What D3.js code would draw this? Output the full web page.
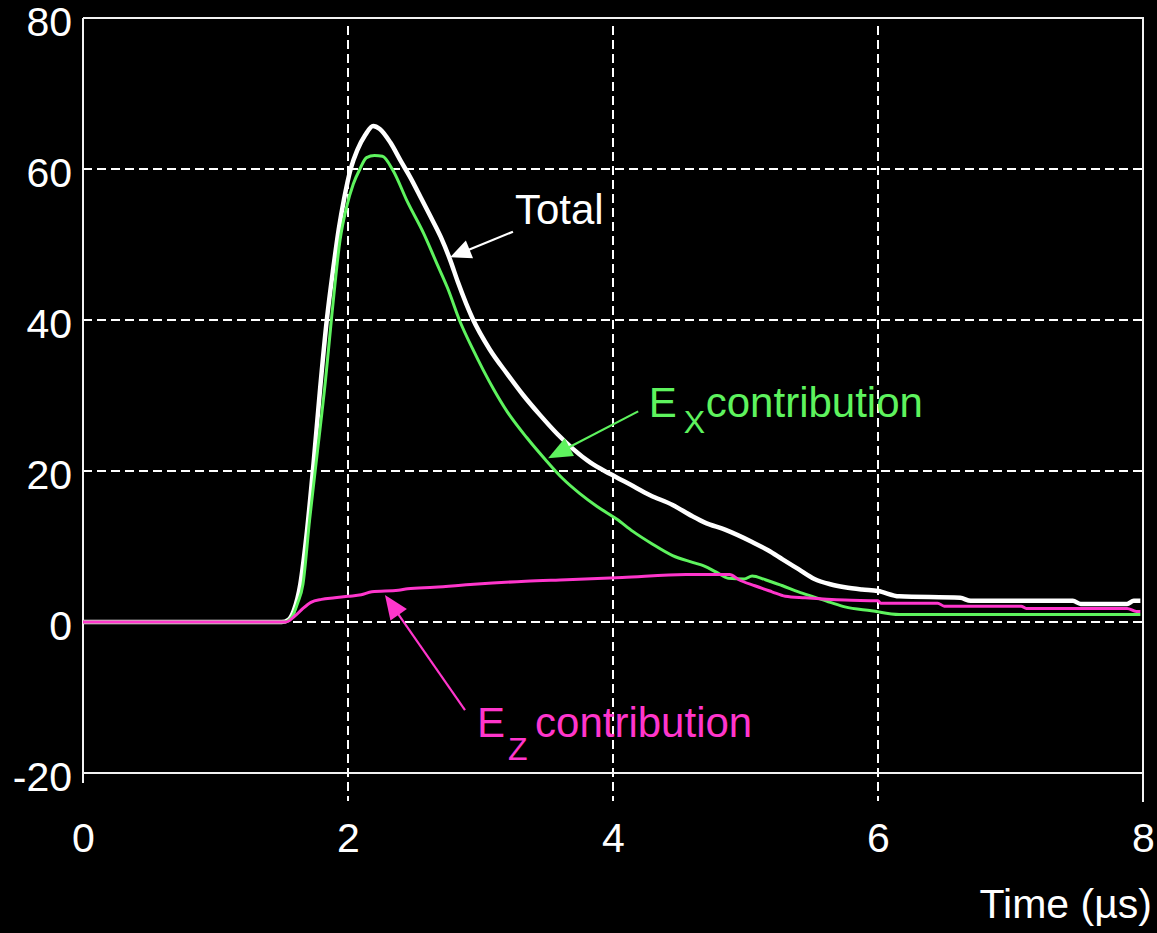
<!DOCTYPE html>
<html>
<head>
<meta charset="utf-8">
<script src="https://cdn.jsdelivr.net/npm/d3@7"></script>
<style>
  html, body { margin: 0; padding: 0; background: #000; }
  svg { display: block; }
</style>
</head>
<body>
<script>
// Axis ticks
const timeTicks = [0, 2, 4, 6, 8];
const fieldTicks = [-20, 0, 20, 40, 60, 80];
const gridTimes = [2, 4, 6];
const gridFields = [0, 20, 40, 60];

// Total field (V/m) against time (µs)
const totalTime = [0, 1.50, 1.55, 1.59, 1.64, 1.69, 1.74, 1.79, 1.84, 1.89, 1.93, 1.97, 2.02, 2.07, 2.13,
  2.19, 2.24, 2.32, 2.40, 2.47, 2.55, 2.62, 2.70, 2.77, 2.83, 2.94, 3.07, 3.20, 3.32, 3.45,
  3.58, 3.70, 3.83, 3.98, 4.13, 4.28, 4.45, 4.60, 4.69, 4.85, 5.05, 5.17, 5.28,
  5.40, 5.52, 5.64, 5.75, 5.88, 6.00, 6.16, 6.62, 6.70, 7.47, 7.53, 7.88, 7.93, 7.98];
const totalField = [0, 0, 0.3, 1.5, 5, 12, 21, 31, 40, 47, 52, 56, 60, 62.5, 64.5,
  65.7, 65.3, 63.5, 61, 58.9, 56.2, 53.8, 51, 48.0, 45.0, 40.2, 36.1, 32.9, 30.1, 27.4,
  24.9, 22.9, 21.1, 19.6, 18.2, 16.8, 15.5, 14, 13.2, 12.2, 10.6, 9.5, 8.3,
  7.0, 5.7, 5.0, 4.6, 4.3, 4.1, 3.4, 3.2, 2.8, 2.8, 2.4, 2.4, 2.8, 2.8];

// Ex contribution
const exTime = [0, 1.52, 1.57, 1.62, 1.66, 1.71, 1.77, 1.83, 1.88, 1.94, 1.99, 2.04, 2.09, 2.14, 2.20,
  2.26, 2.34, 2.45, 2.57, 2.67, 2.75, 2.85, 2.94, 3.02, 3.10, 3.20, 3.35, 3.50, 3.62, 3.75,
  3.88, 4.03, 4.15, 4.29, 4.45, 4.60, 4.69, 4.78, 4.87, 4.99, 5.05, 5.15, 5.28, 5.40, 5.52,
  5.64, 5.75, 5.95, 6.16, 7.98];
const exField = [0, 0, 0.5, 2.5, 5, 13.5, 22.7, 32, 41, 50.6, 55, 58, 60, 61.5, 61.8,
  61.7, 59.8, 55.6, 51.5, 47.5, 44.3, 39.6, 36.2, 33.4, 30.8, 27.9, 24.4, 21.3, 19.0, 17.0,
  15.3, 13.6, 12.0, 10.4, 8.8, 7.9, 7.4, 6.6, 5.8, 5.7, 6.1, 5.6, 4.8, 4.0, 3.3,
  2.6, 2.0, 1.5, 1.0, 1.0];

// Ez contribution
const ezTime = [0, 1.53, 1.60, 1.66, 1.72, 1.80, 1.90, 2.00, 2.10, 2.18, 2.38, 2.45, 2.65, 2.95, 3.34,
  3.65, 4.07, 4.55, 4.88, 4.95, 5.07, 5.20, 5.30, 5.45, 5.75, 6.00, 6.02, 6.45, 6.50, 7.08,
  7.12, 7.88, 7.95, 7.98];
const ezField = [0, 0, 0.8, 1.8, 2.6, 3.0, 3.2, 3.4, 3.6, 4.0, 4.2, 4.4, 4.6, 5.0, 5.4,
  5.6, 5.9, 6.3, 6.3, 5.6, 4.8, 4.0, 3.4, 3.2, 2.9, 2.8, 2.5, 2.5, 2.1, 2.1,
  1.8, 1.8, 1.4, 1.4];

const W = 1157, H = 933;
const FONT = "'Liberation Sans', Arial, Helvetica, sans-serif";
const GREEN = "#5ef35e";
const MAGENTA = "#ff36cc";
const WHITE = "#ffffff";

const x = d3.scaleLinear().domain([0, 8]).range([83, 1143]);
const y = d3.scaleLinear().domain([-20, 80]).range([773, 18]);

const svg = d3.select("body").append("svg")
  .attr("width", W).attr("height", H)
  .style("background", "#000");

// Dashed grid
const grid = svg.append("g")
  .attr("stroke", "#fff").attr("stroke-width", 2).attr("stroke-dasharray", "9,5");
grid.selectAll("line.h").data(gridFields).join("line").attr("class", "h")
  .attr("x1", x(0)).attr("x2", x(8))
  .attr("y1", d => y(d)).attr("y2", d => y(d));
grid.selectAll("line.v").data(gridTimes).join("line").attr("class", "v")
  .attr("x1", d => x(d)).attr("x2", d => x(d))
  .attr("y1", y(80) + 8).attr("y2", y(-20) + 28);

// Frame
const frame = svg.append("g").attr("stroke", "#f2f2f2").attr("stroke-width", 2).attr("fill", "none");
frame.append("line").attr("x1", x(0)).attr("x2", x(8) + 1).attr("y1", y(80)).attr("y2", y(80));
frame.append("line").attr("x1", x(0)).attr("x2", x(8)).attr("y1", y(-20)).attr("y2", y(-20));
frame.append("line").attr("x1", x(0)).attr("x2", x(0)).attr("y1", y(80)).attr("y2", y(-20) + 10);
frame.append("line").attr("x1", x(8)).attr("x2", x(8)).attr("y1", y(80)).attr("y2", y(-20) + 29);

// Tick labels (plain hyphen for negatives)
const yAxis = d3.axisLeft(y).tickValues(fieldTicks).tickSize(0).tickPadding(11)
  .tickFormat(d => String(d));
const yg = svg.append("g").attr("transform", `translate(${x(0)},0)`).call(yAxis);
yg.select(".domain").remove();
yg.selectAll("text").attr("fill", "#fff").attr("font-family", FONT).attr("font-size", 41)
  .attr("dy", null).attr("y", 17);

const xAxis = d3.axisBottom(x).tickValues(timeTicks).tickSize(0).tickFormat(d => String(d));
const xg = svg.append("g").attr("transform", `translate(0,${y(-20)})`).call(xAxis);
xg.select(".domain").remove();
xg.selectAll("text").attr("fill", "#fff").attr("font-family", FONT).attr("font-size", 41)
  .attr("dy", null).attr("y", 79);

svg.append("text").attr("x", 1152).attr("y", 918)
  .attr("text-anchor", "end").attr("fill", "#fff")
  .attr("font-family", FONT).attr("font-size", 41).text("Time (µs)");

// Curves
const line = d3.line().x(d => x(d[0])).y(d => y(d[1])).curve(d3.curveMonotoneX);
const zip = (ts, vs) => ts.map((t, i) => [t, vs[i]]);

svg.append("path").datum(zip(totalTime, totalField))
  .attr("d", line).attr("fill", "none").attr("stroke", WHITE)
  .attr("stroke-width", 4.5).attr("stroke-linejoin", "round");
svg.append("path").datum(zip(exTime, exField))
  .attr("d", line).attr("fill", "none").attr("stroke", GREEN)
  .attr("stroke-width", 3).attr("stroke-linejoin", "round");
svg.append("path").datum(zip(ezTime, ezField))
  .attr("d", line).attr("fill", "none").attr("stroke", MAGENTA)
  .attr("stroke-width", 3).attr("stroke-linejoin", "round");

// Annotation arrows: shaft plus filled head
function arrow(from, to, color, headLen, headHalf) {
  const x1 = x(from[0]), y1 = y(from[1]), x2 = x(to[0]), y2 = y(to[1]);
  const dx = x2 - x1, dy = y2 - y1, L = Math.hypot(dx, dy);
  const ux = dx / L, uy = dy / L;
  const bx = x2 - ux * headLen, by = y2 - uy * headLen;
  svg.append("line").attr("x1", x1).attr("y1", y1).attr("x2", bx + ux * 2).attr("y2", by + uy * 2)
    .attr("stroke", color).attr("stroke-width", 2.2);
  svg.append("path")
    .attr("d", `M${x2},${y2}L${bx - uy * headHalf},${by + ux * headHalf}L${bx + uy * headHalf},${by - ux * headHalf}Z`)
    .attr("fill", color);
}

arrow([3.245, 51.7], [2.77, 48.3], WHITE, 21, 9.5);
arrow([4.19, 27.9], [3.51, 21.7], GREEN, 24, 10);
arrow([2.883, -11.66], [2.279, 3.58], MAGENTA, 24, 10);

// Labels
svg.append("text").attr("x", x(3.26)).attr("y", y(52.7))
  .attr("fill", WHITE).attr("font-family", FONT).attr("font-size", 42).text("Total");

const exLabel = svg.append("text").attr("font-family", FONT).attr("fill", GREEN);
const exX = x(4.27), exY = y(27.15);
exLabel.append("tspan").attr("x", exX).attr("y", exY).attr("font-size", 42).text("E");
exLabel.append("tspan").attr("x", exX + 35).attr("y", exY + 16).attr("font-size", 32).text("X");
exLabel.append("tspan").attr("x", exX + 57).attr("y", exY).attr("font-size", 42).text("contribution");

const ezLabel = svg.append("text").attr("font-family", FONT).attr("fill", MAGENTA);
const ezX = x(2.974), ezY = y(-15.23);
ezLabel.append("tspan").attr("x", ezX).attr("y", ezY).attr("font-size", 42).text("E");
ezLabel.append("tspan").attr("x", ezX + 31).attr("y", ezY + 23).attr("font-size", 32).text("Z");
ezLabel.append("tspan").attr("x", ezX + 58).attr("y", ezY).attr("font-size", 42).text("contribution");
</script>
</body>
</html>
